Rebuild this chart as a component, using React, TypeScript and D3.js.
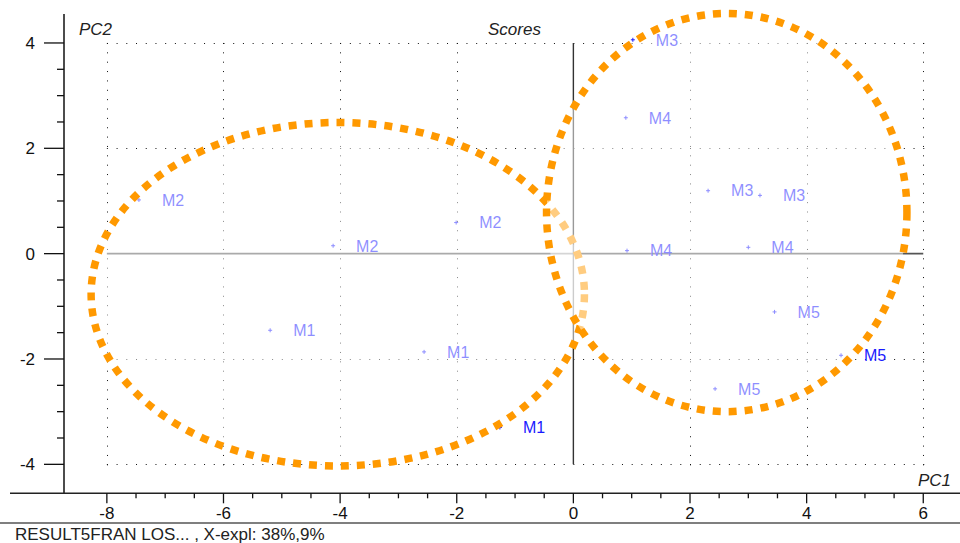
import React from "react";
import * as d3 from "d3";

// ---- data ----
const pointLabels = ["M2", "M2", "M2", "M1", "M1", "M1", "M3", "M4", "M3", "M3", "M4", "M4", "M5", "M5", "M5"];
const pc1Scores = [-7.45, -4.12, -2.01, -5.2, -2.56, -1.26, 1.02, 0.9, 2.31, 3.2, 0.92, 3.0, 3.45, 4.59, 2.43];
const pc2Scores = [1.02, 0.15, 0.59, -1.455, -1.865, -3.3, 4.06, 2.58, 1.195, 1.106, 0.057, 0.12, -1.106, -1.93, -2.567];

const ellipseCx = [-4.04, 2.63];
const ellipseCy = [-0.77, 0.78];
const ellipseRx = [4.23, 3.09];
const ellipseRy = [3.26, 3.78];

const xMajorTicks = [-8, -6, -4, -2, 0, 2, 4, 6];
const yMajorTicks = [-4, -2, 0, 2, 4];
const xGridValues = [-8, -6, -4, -2, 2, 4, 6];
const yGridValues = [-4, -2, 2, 4];

const titleText = "Scores";
const xAxisTitle = "PC1";
const yAxisTitle = "PC2";
const footerText = "RESULT5FRAN LOS... , X-expl: 38%,9%";

const W = 960;
const H = 543;
const FONT = "'Liberation Sans', Arial, sans-serif";

export default function App() {
  const left = 64;
  const right = 960;
  const top = 14;
  const bottom = 493.3;
  const x = d3.scaleLinear().domain([-8.735, 6.63]).range([left, right]);
  const y = d3.scaleLinear().domain([-4.55, 4.55]).range([bottom, top]);

  const xMinor = d3.range(-8, 6.001, 0.5);
  const yMinor = d3.range(-4, 4.001, 0.5);

  const gx0 = x(-8), gx1 = x(6), gy0 = y(4), gy1 = y(-4);
  const hPeriod = (gx1 - gx0) / 84;
  const vPeriod = (gy1 - gy0) / 45;

  const pointColor = "#1a1aff";
  const orange = "#ff9900";

  return (
    <svg width={W} height={H} style={{ position: "absolute", left: 0, top: 0, background: "#fff" }} fontFamily={FONT}>
      <rect x={0} y={0} width={W} height={H} fill="#fff" />
      {/* grid */}
      {yGridValues.map((v) => (
        <line key={"gy" + v} x1={gx0} x2={gx1 + 1} y1={Math.round(y(v)) + 0.5} y2={Math.round(y(v)) + 0.5}
          stroke="#111" strokeWidth={1} strokeDasharray={`1 ${hPeriod - 1}`} />
      ))}
      {xGridValues.map((v) => (
        <line key={"gx" + v} x1={Math.round(x(v)) + 0.5} x2={Math.round(x(v)) + 0.5} y1={gy0} y2={gy1 + 1}
          stroke="#111" strokeWidth={1} strokeDasharray={`1 ${vPeriod - 1}`} />
      ))}
      {/* zero lines */}
      <line x1={gx0} x2={gx1} y1={y(0)} y2={y(0)} stroke="#555" strokeWidth={1.6} />
      <line x1={x(0)} x2={x(0)} y1={gy0} y2={gy1} stroke="#333" strokeWidth={1.4} />

      {/* points */}
      {pc1Scores.map((v, i) => {
        const px = x(v);
        const py = y(pc2Scores[i]);
        return (
          <g key={"p" + i}>
            <line x1={px - 2} x2={px + 2} y1={py} y2={py} stroke={pointColor} strokeWidth={1} />
            <line x1={px} x2={px} y1={py - 2} y2={py + 2} stroke={pointColor} strokeWidth={1} />
            <text x={px + 23} y={py} dy="0.36em" fontSize={16} fill={pointColor}>{pointLabels[i]}</text>
          </g>
        );
      })}

      {/* ellipses */}
      {ellipseCx.map((cx, i) => (
        <ellipse key={"e" + i}
          cx={x(cx)} cy={y(ellipseCy[i])}
          rx={x(cx + ellipseRx[i]) - x(cx)} ry={y(ellipseCy[i] - ellipseRy[i]) - y(ellipseCy[i])}
          fill="#fff" fillOpacity={0.5}
          stroke={orange} strokeWidth={7.5} strokeDasharray="8 8" />
      ))}

      {/* axes */}
      <line x1={left} x2={left} y1={top} y2={bottom} stroke="#111" strokeWidth={1.5} />
      <line x1={10} x2={W} y1={bottom} y2={bottom} stroke="#222" strokeWidth={1.5} />
      <line x1={0} x2={W} y1={523} y2={523} stroke="#555" strokeWidth={1.5} />

      {xMinor.map((v) => (
        <line key={"xm" + v} x1={x(v)} x2={x(v)} y1={bottom} y2={bottom + (xMajorTicks.includes(v) ? 10 : 5)}
          stroke="#111" strokeWidth={1.3} />
      ))}
      {xMajorTicks.map((v) => (
        <text key={"xl" + v} x={x(v)} y={519} fontSize={17} textAnchor="middle" fill="#111">{v}</text>
      ))}
      {yMinor.map((v) => (
        <line key={"ym" + v} x1={left - (yMajorTicks.includes(v) ? 20 : 7)} x2={left} y1={y(v)} y2={y(v)}
          stroke="#111" strokeWidth={1.3} />
      ))}
      {yMajorTicks.map((v) => (
        <text key={"yl" + v} x={35} y={y(v)} dy="0.36em" fontSize={17} textAnchor="end" fill="#111">{v}</text>
      ))}

      {/* titles */}
      <text x={79} y={35} fontSize={17} fontStyle="italic" fill="#222">{yAxisTitle}</text>
      <text x={488} y={35} fontSize={17} fontStyle="italic" fill="#222">{titleText}</text>
      <text x={918} y={486} fontSize={17} fontStyle="italic" fill="#222">{xAxisTitle}</text>
      <text x={15} y={540} fontSize={17} fill="#222">{footerText}</text>
    </svg>
  );
}
